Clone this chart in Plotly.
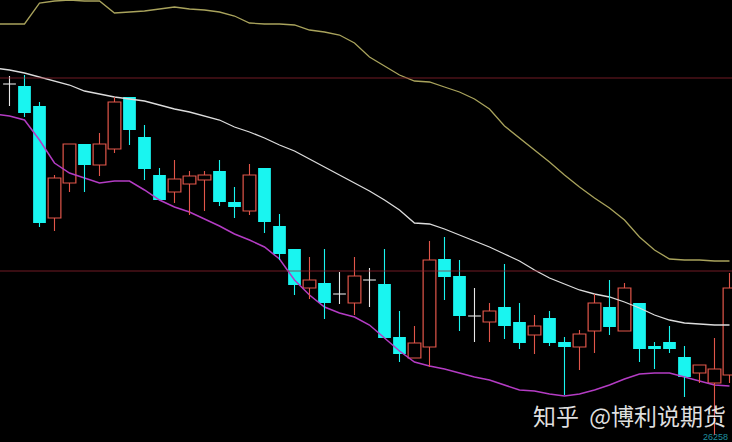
import plotly.graph_objects as go

# ---- data (price units) ----
idx = list(range(49))
opens = [29160,29140,28940,27820,28170,28560,28350,28510,29030,28630,28250,28080,28160,28200,28290,27980,27890,28320,27740,27510,
         27120,27170,27060,26970,27200,27160,26630,26420,26530,27410,27240,26840,26780,26930,26780,26650,26820,26580,26530,26690,
         26930,26690,26970,26540,26580,26430,26270,26170,26250]
highs = [29240,29250,28980,28250,28560,28560,28670,29030,29030,28750,28320,28400,28290,28290,28400,28130,28360,28320,27860,27510,
         27430,27510,27280,27430,27320,27510,26890,26740,27590,27630,27400,27120,26970,27360,26970,26850,26890,26630,26700,27060,
         27200,27170,26970,26580,26740,26540,26350,26620,27270]
lows = [28940,28830,27730,27690,28080,28080,28240,28470,28550,28200,28000,27970,27850,27890,27940,27820,27850,27670,27400,27050,
        27010,26810,26960,26850,26930,26620,26380,26420,26330,27000,26690,26580,26580,26610,26510,26460,26540,26050,26300,26470,
        26650,26690,26380,26310,26470,26030,26170,25650,26170]
closes = [29160,28870,27770,28220,28560,28350,28560,28980,28700,28310,28000,28210,28240,28250,27980,27930,28250,27780,27460,27150,
          27200,26970,27060,27240,27200,26620,26460,26570,27400,27230,26840,26840,26890,26740,26570,26740,26570,26530,26660,26970,
          26730,27120,26510,26510,26510,26230,26350,26310,27120]

band_idx = list(range(-1, 49))
upper = [29760,29760,29760,29970,29990,30000,29990,29990,29870,29880,29890,29910,29930,29910,29900,29880,29840,29770,29760,29760,
         29750,29700,29680,29650,29570,29430,29340,29250,29190,29180,29130,29080,29010,28910,28740,28620,28500,28380,28250,28130,
         28020,27920,27800,27630,27500,27410,27400,27400,27390,27390]
middle = [29320,29300,29270,29230,29190,29150,29090,29060,29030,29010,28990,28950,28910,28880,28840,28800,28730,28680,28620,28550,
          28490,28410,28330,28250,28170,28090,28000,27900,27770,27760,27710,27650,27590,27530,27460,27390,27300,27220,27160,27100,
          27060,27030,26980,26920,26850,26800,26770,26760,26750,26750]
lower = [28860,28840,28800,28600,28370,28270,28220,28170,28190,28190,28100,28000,27930,27880,27810,27740,27660,27600,27530,27410,
         27200,27050,26930,26870,26830,26750,26620,26490,26380,26340,26310,26270,26230,26200,26150,26100,26090,26060,26040,26060,
         26100,26150,26210,26260,26270,26270,26230,26190,26150,26140]
ref_levels = [29220, 27290]

RED = "#e2564a"
CYAN = "#19f5f0"
WHITE = "#e8e8e8"
BODY_W = 0.85

fig = go.Figure()

# reference horizontal levels
for lv in ref_levels:
    fig.add_hline(y=lv, line=dict(color="rgba(150,35,50,0.75)", width=1))

# bands
fig.add_trace(go.Scatter(x=band_idx, y=upper, mode="lines", line=dict(color="#a9a35c", width=1.3), hoverinfo="skip"))
fig.add_trace(go.Scatter(x=band_idx, y=middle, mode="lines", line=dict(color="#dcdcdc", width=1.3), hoverinfo="skip"))
fig.add_trace(go.Scatter(x=band_idx, y=lower, mode="lines", line=dict(color="#b43cc4", width=1.5), hoverinfo="skip"))

groups = {"up": [], "down": [], "doji": []}
for i, o, h, l, c in zip(idx, opens, highs, lows, closes):
    if c > o:
        groups["up"].append((i, o, h, l, c))
    elif c < o:
        groups["down"].append((i, o, h, l, c))
    else:
        groups["doji"].append((i, o, h, l, c))

def wicks(items, full=False):
    xs, ys = [], []
    for i, o, h, l, c in items:
        top, bot = max(o, c), min(o, c)
        if full:
            xs += [i, i, None]; ys += [h, l, None]
        else:
            xs += [i, i, None, i, i, None]; ys += [h, top, None, bot, l, None]
    return xs, ys

# bodies
for key, fill, lc, lw in [("up", "#000000", RED, 1.2), ("down", CYAN, CYAN, 0)]:
    items = groups[key]
    fig.add_trace(go.Bar(
        x=[t[0] for t in items],
        base=[min(t[1], t[4]) for t in items],
        y=[abs(t[4] - t[1]) for t in items],
        width=BODY_W,
        marker=dict(color=fill, line=dict(color=lc, width=lw)),
        hoverinfo="skip",
    ))

# wicks
for key, col in [("up", RED), ("down", CYAN)]:
    xs, ys = wicks(groups[key])
    fig.add_trace(go.Scatter(x=xs, y=ys, mode="lines", line=dict(color=col, width=1.1), hoverinfo="skip"))

# doji crosses
xs, ys = wicks(groups["doji"], full=True)
for i, o, h, l, c in groups["doji"]:
    xs += [i - BODY_W / 2, i + BODY_W / 2, None]
    ys += [o, o, None]
fig.add_trace(go.Scatter(x=xs, y=ys, mode="lines", line=dict(color=WHITE, width=1.1), hoverinfo="skip"))

# watermark and corner label
fig.add_annotation(x=1, y=0.062, xref="paper", yref="paper", xanchor="right", yanchor="middle",
                   text="知乎  @博利说期货", showarrow=False, xshift=-4,
                   font=dict(family="Noto Sans CJK SC", size=23, color="rgba(255,255,255,0.88)"))
fig.add_annotation(x=1, y=0, xref="paper", yref="paper", xanchor="right", yanchor="bottom",
                   text="26258", showarrow=False, xshift=-2, yshift=-2,
                   font=dict(family="Liberation Sans", size=9, color="#1f8f9f"))

fig.update_layout(
    width=732, height=442,
    margin=dict(l=0, r=0, t=0, b=0),
    paper_bgcolor="#000000", plot_bgcolor="#000000",
    showlegend=False, barmode="overlay",
    xaxis=dict(range=[-0.633, 48.167], showgrid=False, zeroline=False, showticklabels=False, ticks=""),
    yaxis=dict(range=[25580, 30000], showgrid=False, zeroline=False, showticklabels=False, ticks=""),
)

fig.write_html("out.html", config={"displayModeBar": False},
               post_script="document.body.style.margin='0';document.body.style.background='#000';")
